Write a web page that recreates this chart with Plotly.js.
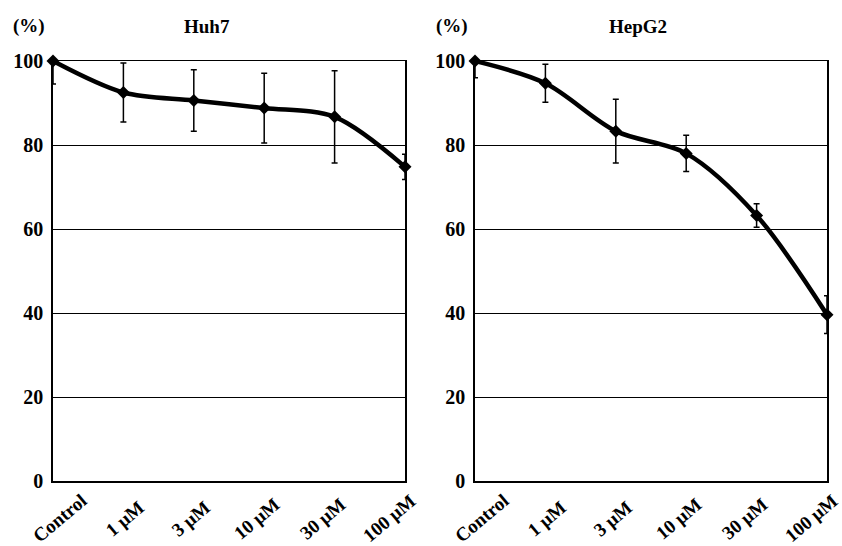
<!DOCTYPE html>
<html>
<head>
<meta charset="utf-8">
<script src="https://cdn.plot.ly/plotly-3.0.1.min.js"></script>
<style>html,body{margin:0;padding:0;background:#fff;}#chart{width:842px;height:546px;}</style>
</head>
<body>
<div id="chart"></div>
<script>
const categories = ['Control', '1 μM', '3 μM', '10 μM', '30 μM', '100 μM'];
const huh7 = [100, 92.5, 90.6, 88.8, 86.7, 74.8];
const huh7ErrUp = [0, 7.0, 7.3, 8.3, 11.0, 3.0];
const huh7ErrDown = [5.5, 7.0, 7.3, 8.3, 11.0, 3.0];
const hepg2 = [100, 94.7, 83.3, 78.0, 63.2, 39.6];
const hepg2ErrUp = [0, 4.5, 7.6, 4.3, 2.8, 4.5];
const hepg2ErrDown = [4.0, 4.5, 7.6, 4.3, 2.8, 4.5];
const yTicks = [0, 20, 40, 60, 80, 100];
const panelTitles = ['Huh7', 'HepG2'];
const unitLabel = '(%)';

const serif = 'Liberation Serif, Times New Roman, serif';
const xIdx = categories.map((_, i) => i);

function series(y, up, down, xa, ya) {
  return {
    type: 'scatter', mode: 'lines+markers', x: xIdx, y: y, xaxis: xa, yaxis: ya,
    line: {color: '#000', width: 4.5, shape: 'spline', smoothing: 0.9},
    marker: {symbol: 'diamond', size: 10, color: '#000'},
    error_y: {type: 'data', symmetric: false, array: up, arrayminus: down,
              color: '#000', thickness: 1.5, width: 3},
    cliponaxis: false, showlegend: false, hoverinfo: 'skip'
  };
}

const data = [
  series(huh7, huh7ErrUp, huh7ErrDown, 'x', 'y'),
  series(hepg2, hepg2ErrUp, hepg2ErrDown, 'x2', 'y2')
];

function xaxis(domain, anchor) {
  return {domain: domain, anchor: anchor, range: [0, categories.length - 1],
    showgrid: false, zeroline: false, showline: true, mirror: true,
    linecolor: '#000', linewidth: 1.5, ticks: '', showticklabels: false, fixedrange: true};
}
function yaxis(domain, anchor) {
  return {domain: domain, anchor: anchor, range: [0, 100], tickvals: yTicks,
    showgrid: true, gridcolor: '#000', gridwidth: 1, zeroline: false,
    showline: true, mirror: true, linecolor: '#000', linewidth: 1.8, ticks: '',
    ticklabelstandoff: 4,
    tickfont: {family: serif, size: 20, color: '#000', weight: 'bold'}, fixedrange: true};
}

const yDom = [1 - 481 / 546, 1 - 61 / 546];
const annotations = [];
const panels = [{x: 'x', titleX: 207, unitX: 29}, {x: 'x2', titleX: 638, unitX: 452}];
panels.forEach((p, k) => {
  annotations.push({xref: 'paper', yref: 'paper', x: p.titleX / 842, y: 1 - 26 / 546,
    xanchor: 'center', yanchor: 'middle', showarrow: false, text: panelTitles[k],
    font: {family: serif, size: 19, color: '#000', weight: 'bold'}});
  annotations.push({xref: 'paper', yref: 'paper', x: p.unitX / 842, y: 1 - 26 / 546,
    xanchor: 'center', yanchor: 'middle', showarrow: false, text: unitLabel,
    font: {family: serif, size: 19, color: '#000', weight: 'bold'}});
  categories.forEach((c, i) => {
    annotations.push({xref: p.x, yref: 'paper', x: i, y: 1 - 518 / 546,
      xanchor: 'center', yanchor: 'middle', showarrow: false, text: c, textangle: -40,
      xshift: 6 - 4.5 * i,
      font: {family: serif, size: 19, color: '#000', weight: 'bold'}});
  });
});

const layout = {
  width: 842, height: 546, margin: {l: 0, r: 0, t: 0, b: 0},
  paper_bgcolor: '#fff', plot_bgcolor: '#fff', showlegend: false,
  xaxis: xaxis([53 / 842, 405 / 842], 'y'),
  yaxis: yaxis(yDom, 'x'),
  xaxis2: xaxis([475 / 842, 827 / 842], 'y2'),
  yaxis2: yaxis(yDom, 'x2'),
  annotations: annotations
};

Plotly.newPlot('chart', data, layout, {displayModeBar: false, staticPlot: true});
</script>
</body>
</html>
